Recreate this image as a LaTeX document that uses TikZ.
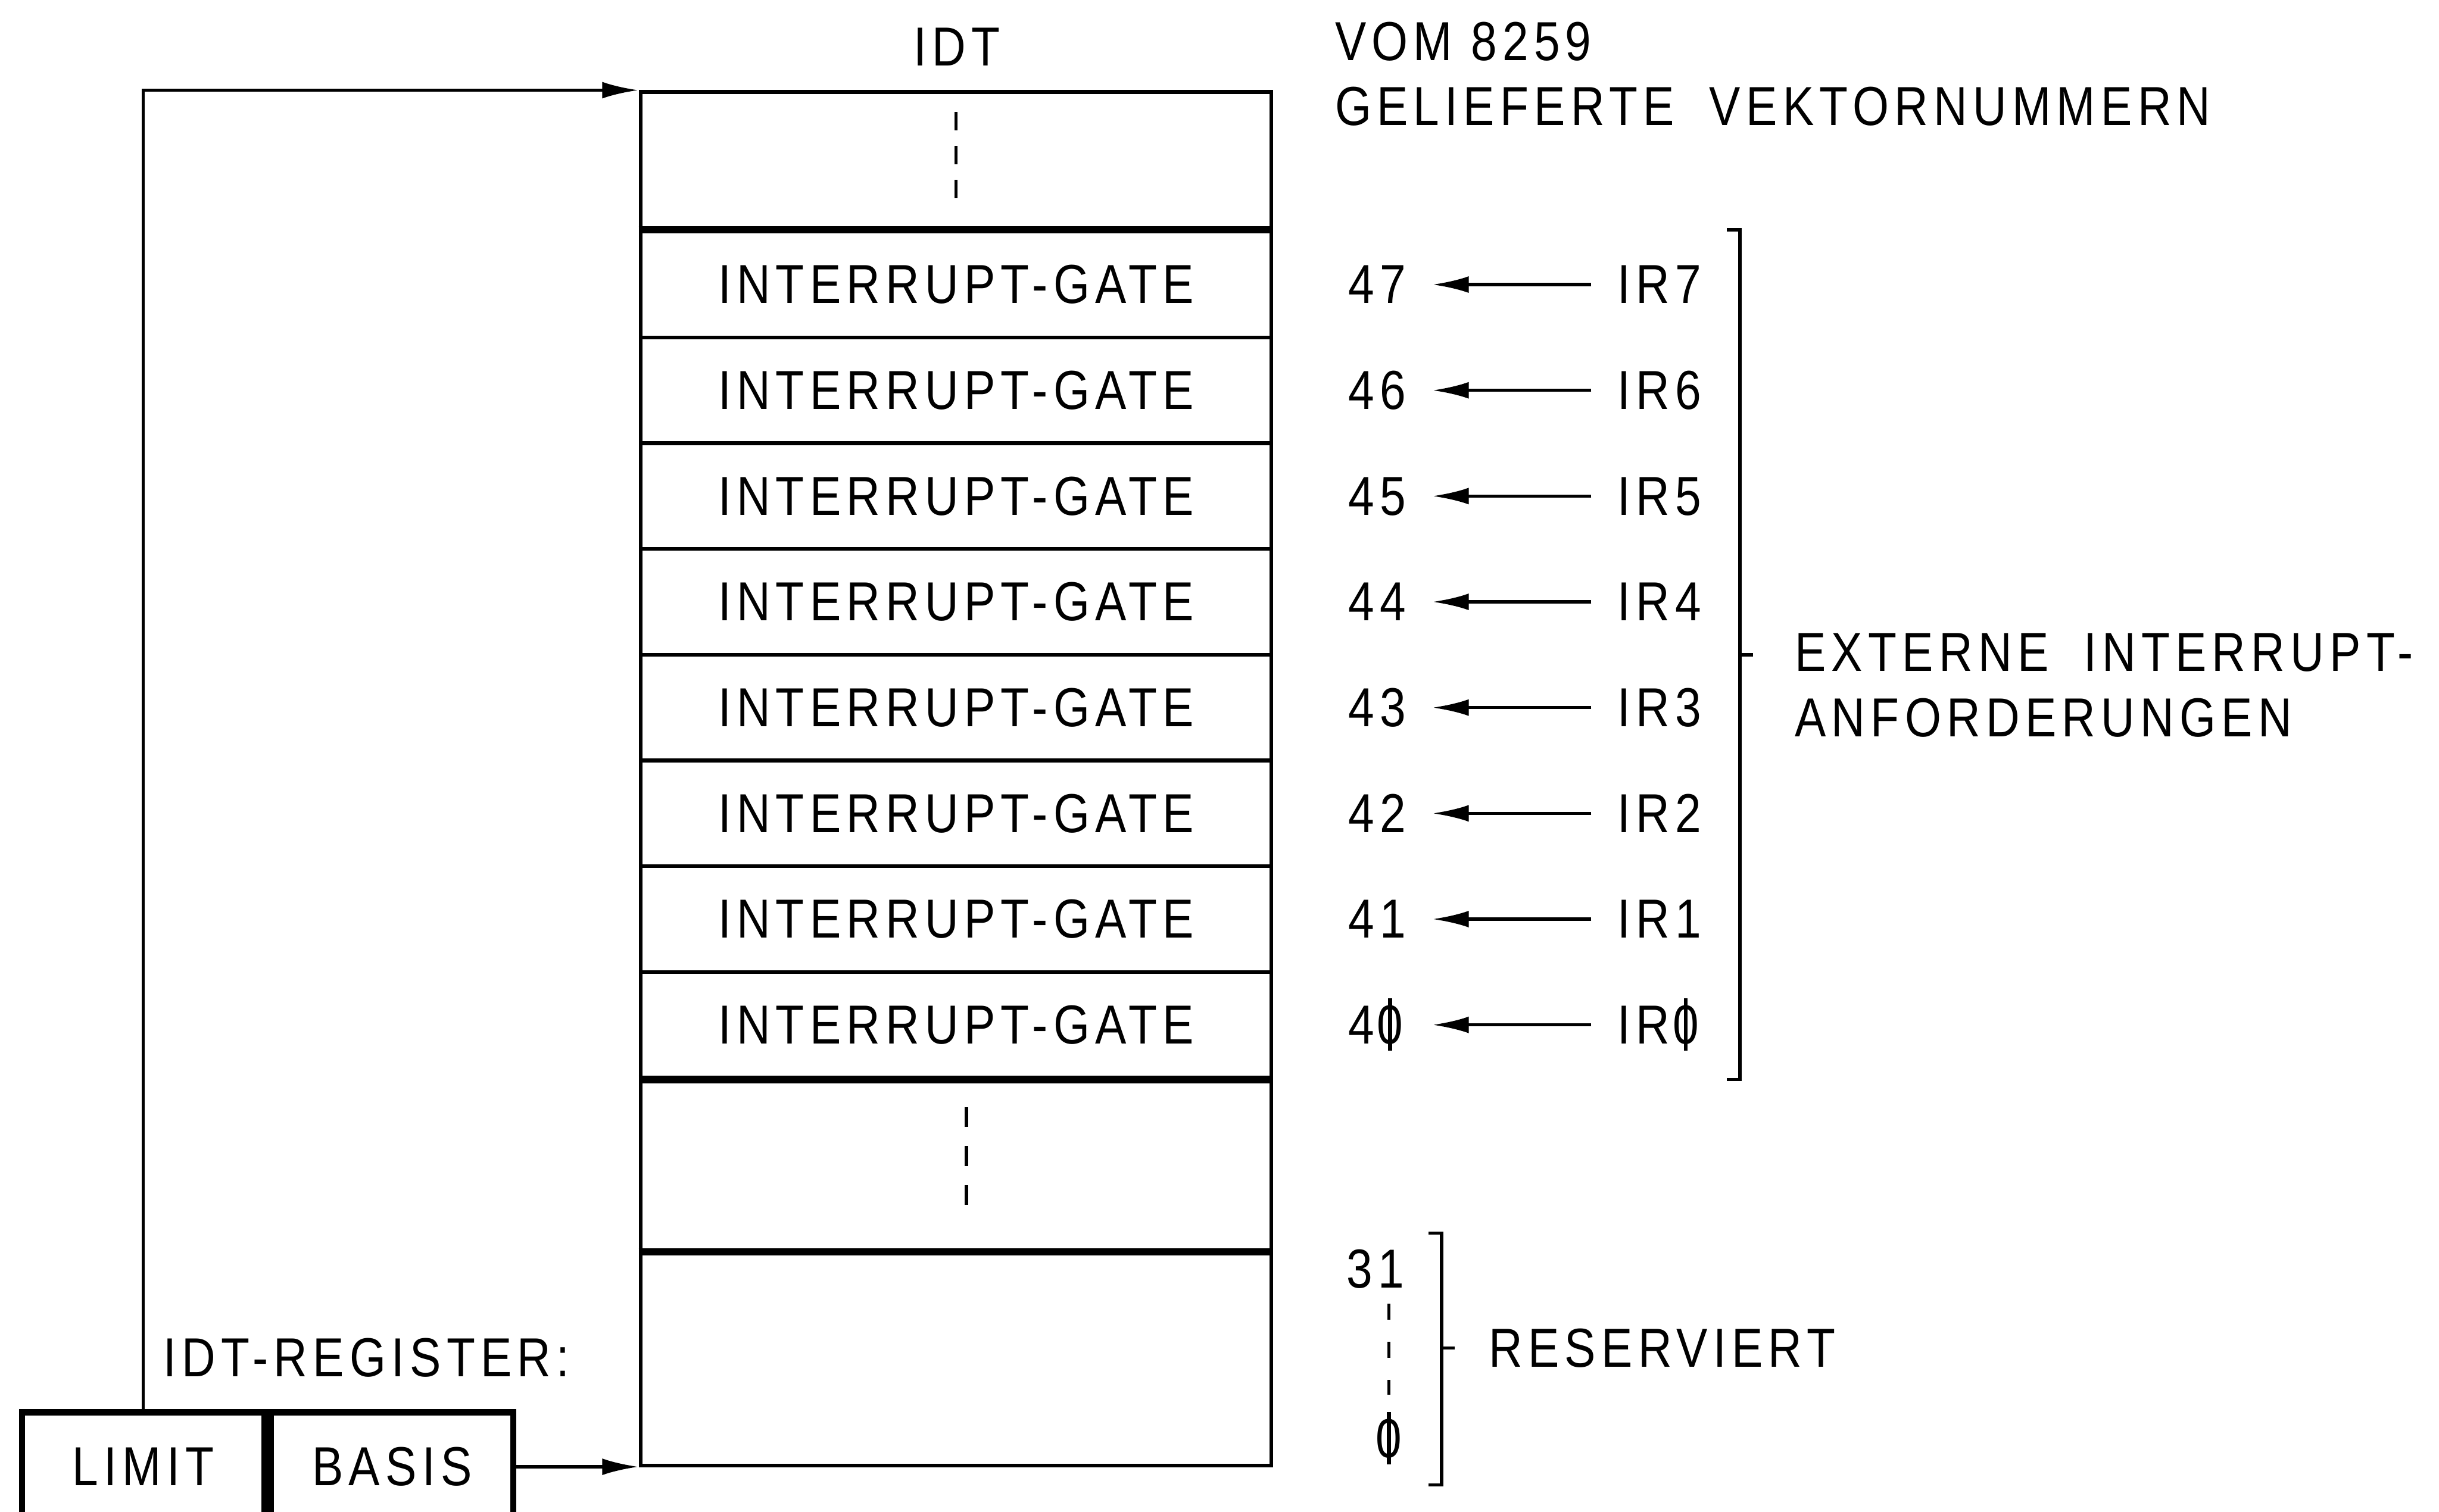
\documentclass[tikz,border=0pt]{standalone}
\usepackage{fontspec}
\setmainfont{Liberation Sans}[FakeStretch=0.85,LetterSpace=10]
\newfontfamily\zerofont{Liberation Sans}[FakeStretch=0.85]
\usetikzlibrary{arrows.meta,positioning,calc}
\newcommand\nz{\kern0.05em\ooalign{{\zerofont 0}\cr\hidewidth\rule[-0.12em]{0.07em}{0.95em}\hidewidth\cr}\kern0.05em}

\begin{document}
\begin{tikzpicture}[
    font=\fontsize{30}{35.6}\selectfont,
    cell/.style={draw,line width=2pt,minimum width=12.1cm,inner sep=0pt,anchor=north west},
    gate/.style={cell,minimum height=2.029cm},
    lab/.style={inner sep=0pt,text depth=0pt},
    heavy/.style={line width=4pt},
    thinline/.style={line width=1.8pt},
    gap/.style={thinline,dash pattern=on 0.35cm off 0.3cm},
    arrow/.style={-{Latex[length=7mm,width=3.2mm]},line width=1.8pt},
    reg/.style={draw,line width=3.5pt,minimum width=4.65cm,minimum height=2.1cm,
      inner sep=0pt,anchor=north west}
  ]
  \useasboundingbox (0,0) rectangle (46.78,-29);
  % IDT table
  \node[lab] (title) at (18.35,-0.9) {IDT};
  \node[cell,minimum height=2.68cm] (upper) at (12.25,-1.73) {};
  \foreach \n [count=\i from 0] in {7,...,0}
    \node[gate] (g\n) at (12.25,{-4.41-2.029*\i}) {INTERRUPT-GATE};
  \node[cell,minimum height=3.31cm] (lower) at (12.25,-20.64) {};
  \node[cell,minimum height=4.13cm] (res) at (12.25,-23.95) {};
  \draw[heavy] (g7.north west) -- (g7.north east);
  \draw[heavy] (g0.south west) -- (g0.south east);
  \draw[heavy] (lower.south west) -- (lower.south east);
  \draw[gap] ([yshift=-0.42cm]upper.north) -- ([yshift=0.59cm]upper.south);
  \draw[gap,dash pattern=on 0.38cm off 0.37cm]
    ([xshift=0.2cm,yshift=-0.6cm]lower.north) -- ([xshift=0.2cm,yshift=0.83cm]lower.south);
  % vector numbers from the 8259
  \node[lab,anchor=west,align=left] (from8259) at (25.6,-1.415)
    {VOM 8259\\GELIEFERTE\hspace{0.3em} VEKTORNUMMERN};
  \foreach \n/\d in {7/7,6/6,5/5,4/4,3/3,2/2,1/1,0/\nz} {
    \node[lab,anchor=east] (v\n) at ([xshift=2.55cm]g\n.east) {4\d};
    \node[lab,anchor=west] (ir\n) at ([xshift=6.6cm]g\n.east) {IR\d};
    \draw[arrow,shorten >=0.5cm,shorten <=0.5cm] (ir\n.west) -- (v\n.east);
  }
  \coordinate (exttop) at ([xshift=8.95cm]g7.north east);
  \coordinate (extbot) at ([xshift=8.95cm]g0.south east);
  \coordinate (extmid) at ($(exttop)!0.5!(extbot)$);
  \draw[thinline] ([xshift=-0.25cm]exttop) -- (exttop) -- (extbot) -- ([xshift=-0.25cm]extbot);
  \draw[thinline] (extmid) -- ++(0.25,0);
  \node[lab,anchor=west,align=left] (ext) at ([xshift=1.05cm,yshift=-0.58cm]extmid)
    {EXTERNE\hspace{0.3em} INTERRUPT-\\ANFORDERUNGEN};
  % reserved vectors
  \node[lab,anchor=east] (r31) at (26.94,-24.34) {31};
  \node[lab] (r0) at (26.64,-27.6) {\nz};
  \draw[thinline,dash pattern=on 0.3cm off 0.43cm,shorten <=0.3cm,shorten >=0.465cm]
    (r0.north |- r31.south) -- (r0.north);
  \coordinate (restop) at (27.65,-23.66);
  \coordinate (resbot) at (27.65,-28.49);
  \draw[thinline] ([xshift=-0.25cm]restop) -- (restop) -- (resbot) -- ([xshift=-0.25cm]resbot);
  \draw[thinline] (27.65,-25.86) -- ++(0.25,0);
  \node[lab,anchor=west] (reserved) at (28.55,-25.86) {RESERVIERT};
  % IDT register
  \node[lab,anchor=west] (regtitle) at (3.13,-26.04) {IDT-REGISTER:};
  \node[reg] (limit) at (0.36,-27.03) {LIMIT};
  \node[reg,right=0pt of limit] (basis) {BASIS};
  \draw[arrow] (basis.east) -- (basis.east -| res.west);
  \draw[arrow] (limit.north) |- (upper.north west);
\end{tikzpicture}
\end{document}
